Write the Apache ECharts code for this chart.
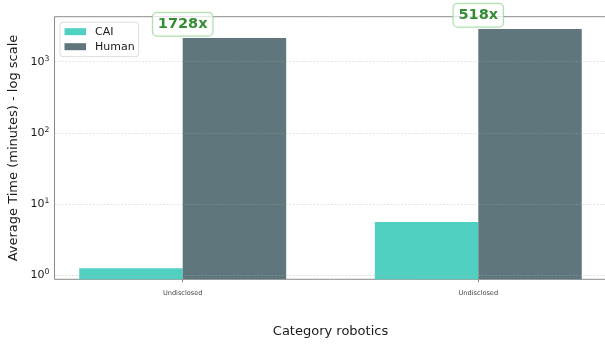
<!DOCTYPE html>
<html>
<head>
<meta charset="utf-8">
<script src="https://cdn.jsdelivr.net/npm/echarts@6/dist/echarts.min.js"></script>
<style>
  html, body { margin: 0; padding: 0; background: #fff; }
  #chart { width: 605px; height: 347px; }
</style>
</head>
<body>
<div id="chart"></div>
<script>
// Average completion time per task, in minutes
const categories = ['Undisclosed', 'Undisclosed'];
const caiMinutes = [1.247, 5.567];
const humanMinutes = [2155, 2884];
const seriesNames = ['CAI', 'Human'];

const CAI_COLOR = '#4fd0c0';
const HUMAN_COLOR = '#5e767c';
const BAR_WIDTH = 0.35;

const FONT = 'DejaVu Sans';
const TEXT = '#1a1a1a';

function barRenderer(offset) {
  return function (params, api) {
    const x = api.value(0) + offset;
    const v = api.value(1);
    const left = api.coord([x - BAR_WIDTH / 2, v]);
    const right = api.coord([x + BAR_WIDTH / 2, v]);
    const cs = params.coordSys;
    const base = cs.y + cs.height;
    return {
      type: 'rect',
      shape: { x: left[0], y: left[1], width: right[0] - left[0], height: base - left[1] },
      style: { fill: api.visual('color') }
    };
  };
}

const caiData = caiMinutes.map((v, i) => [i, v]);
const humanData = humanMinutes.map((v, i) => [i, v]);
// speed-up badges sit just above the taller bar of each pair
const badgeData = humanMinutes.map((h, i) => ({
  value: [i, Math.max(h, caiMinutes[i]) * 1.077],
  ratio: Math.round(h / caiMinutes[i])
}));

const chart = echarts.init(document.getElementById('chart'), null, { renderer: 'canvas' });
chart.setOption({
  animation: false,
  backgroundColor: '#fff',
  textStyle: { fontFamily: FONT },
  grid: {
    left: 54.5, top: 16.7, width: 552, height: 262.6,
    show: true, borderColor: '#8a8a8a', borderWidth: 1,
    containLabel: false, outerBoundsMode: 'none'
  },
  legend: {
    data: seriesNames,
    orient: 'vertical',
    left: 60, top: 22.3,
    icon: 'rect',
    itemWidth: 21.5, itemHeight: 7, itemGap: 2,
    padding: [2.9, 4, 3.5, 4.5],
    borderColor: '#dddddd', borderWidth: 1, borderRadius: 3,
    backgroundColor: 'rgba(255,255,255,0.8)',
    textStyle: { fontFamily: FONT, fontSize: 11, color: TEXT, lineHeight: 13, padding: [0, 0, 0, 4] }
  },
  xAxis: {
    type: 'value',
    min: -0.4337, max: 1.4337,
    name: 'Category robotics',
    nameLocation: 'middle',
    nameGap: 46,
    nameTextStyle: { fontFamily: FONT, fontSize: 13, color: TEXT },
    axisLine: { show: false },
    splitLine: { show: false },
    axisTick: { show: true, customValues: [0, 1], length: 3, lineStyle: { color: '#888' } },
    axisLabel: {
      customValues: [0, 1],
      formatter: v => categories[Math.round(v)],
      fontFamily: FONT, fontSize: 6.6, color: '#444', margin: 10
    }
  },
  yAxis: {
    type: 'log',
    logBase: 10,
    min: 0.87, max: 4296,
    z: 5,
    name: 'Average Time (minutes) - log scale',
    nameLocation: 'middle',
    nameGap: 28,
    nameTextStyle: { fontFamily: FONT, fontSize: 13, color: TEXT },
    axisLine: { show: false },
    axisTick: { show: false },
    splitLine: { show: true, lineStyle: { color: 'rgba(170,170,170,0.32)', type: [2, 1.5], width: 1 } },
    axisLabel: {
      margin: 5,
      formatter: v => {
        const e = Math.log10(v);
        if (Math.abs(e - Math.round(e)) > 1e-6) return '';
        return '{b|10}{s|' + String(Math.round(e)) + '}';
      },
      rich: {
        b: { fontFamily: FONT, fontSize: 11, color: TEXT },
        s: { fontFamily: FONT, fontSize: 7.7, color: TEXT, verticalAlign: 'top', padding: [0, 0, 6, 0] }
      }
    }
  },
  series: [
    {
      name: 'CAI', type: 'custom', data: caiData,
      itemStyle: { color: CAI_COLOR },
      renderItem: barRenderer(-BAR_WIDTH / 2), encode: { x: 0, y: 1 }
    },
    {
      name: 'Human', type: 'custom', data: humanData,
      itemStyle: { color: HUMAN_COLOR },
      renderItem: barRenderer(BAR_WIDTH / 2), encode: { x: 0, y: 1 }
    },
    {
      name: 'ratio', type: 'scatter', data: badgeData,
      symbolSize: 0.1, z: 10, silent: true,
      label: {
        show: true, position: 'top', distance: 0,
        formatter: p => p.data.ratio + 'x',
        fontFamily: FONT, fontSize: 14.5, fontWeight: 'bold', color: '#007000',
        lineHeight: 17,
        backgroundColor: 'rgba(255,255,255,0.9)',
        borderColor: '#97d497', borderWidth: 1, borderRadius: 4,
        padding: [3, 5, 3, 5]
      }
    }
  ]
});
</script>
</body>
</html>
